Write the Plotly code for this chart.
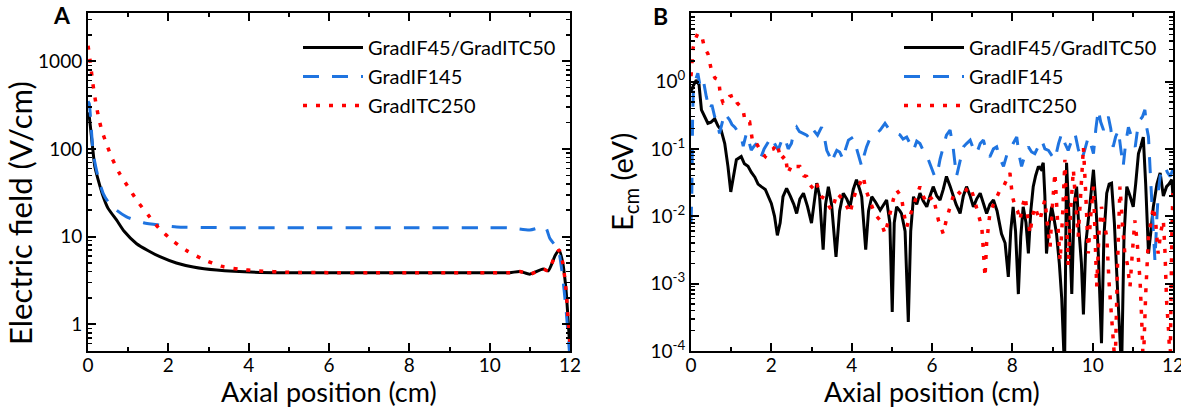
import plotly.graph_objects as go

# ---------------- Panel A data ----------------
xa_black = [0, 0.03, 0.1, 0.17, 0.25, 0.38, 0.5, 0.71, 0.9, 1.21, 1.5, 1.79, 2.2, 2.62, 3.2, 4.28, 5, 6, 7, 8, 9, 10,
            10.5, 10.75, 11.0, 11.33, 11.46, 11.63, 11.73, 11.82, 11.9, 11.96, 12.0]
ya_black = [260, 234, 120, 63, 45, 28.5, 21, 15.5, 11.5, 8.3, 6.9, 5.9, 5.0, 4.5, 4.15, 3.9, 3.88, 3.87, 3.87, 3.87, 3.87, 3.87,
            3.88, 4.0, 3.73, 4.26, 4.07, 6.1, 7.0, 5.0, 2.5, 1.0, 0.5]

xa_blue = [0, 0.03, 0.13, 0.25, 0.38, 0.5, 0.71, 0.96, 1.38, 1.8, 2.21, 3, 4, 6, 8, 10, 10.5, 11.0, 11.38, 11.5, 11.71,
           11.8, 11.9, 12.0]
ya_blue = [350, 330, 89, 48, 31, 25, 20, 16.8, 14.4, 13.5, 12.9, 12.7, 12.6, 12.6, 12.6, 12.6, 12.6, 11.9, 12.9, 9.5, 7.0,
           4.0, 1.5, 0.4]

xa_red = [0, 0.01, 0.07, 0.12, 0.19, 0.26, 0.34, 0.47, 0.59, 0.77, 0.98, 1.24, 1.5, 1.77, 2.12, 2.44, 2.87, 3.31, 3.75, 4.2,
          5, 6, 7, 8, 9, 10, 10.5, 10.75, 11.0, 11.33, 11.46, 11.63, 11.73, 11.82, 11.9, 11.96, 12.0]
ya_red = [1500, 1420, 870, 560, 347, 234, 165, 111, 80, 54, 38, 25, 17.6, 12.4, 8.9, 7.0, 5.5, 4.6, 4.25, 4.07,
          3.92, 3.88, 3.87, 3.87, 3.87, 3.87, 3.88, 4.0, 3.73, 4.26, 4.07, 6.1, 7.0, 5.0, 2.5, 1.0, 0.6]

# ---------------- Panel B data ----------------
xb_black = [0.0, 0.05, 0.13, 0.2, 0.26, 0.34, 0.42, 0.5, 0.59, 0.67, 0.75, 0.84, 0.92, 0.99, 1.06, 1.13, 1.25, 1.33, 1.42,
            1.5, 1.59, 1.67, 1.75, 1.85, 2.0, 2.08, 2.15, 2.22, 2.29, 2.38, 2.47, 2.56, 2.63, 2.71, 2.8, 2.9, 3.0, 3.06,
            3.13, 3.2, 3.29, 3.35, 3.42, 3.5, 3.61, 3.7, 3.79, 3.88, 3.96, 4.04, 4.12, 4.2, 4.25, 4.35, 4.42, 4.5, 4.6,
            4.71, 4.8, 4.87, 4.95, 5.01, 5.06, 5.12, 5.2, 5.24, 5.33, 5.41, 5.47, 5.54, 5.62, 5.7, 5.78, 5.87, 5.95, 6.03,
            6.12, 6.2, 6.28, 6.36, 6.45, 6.53, 6.6, 6.7, 6.78, 6.86, 6.95, 7.03, 7.11, 7.2, 7.28, 7.36, 7.44, 7.53, 7.62,
            7.73, 7.82, 7.9, 7.96, 8.02, 8.08, 8.15, 8.21, 8.27, 8.34, 8.4, 8.46, 8.52, 8.58, 8.65, 8.71, 8.77, 8.81,
            8.85, 8.92, 8.98, 9.04, 9.1, 9.17, 9.23, 9.3, 9.35, 9.41, 9.48, 9.54, 9.6, 9.66, 9.72, 9.77, 9.83, 9.89,
            9.95, 10.02, 10.08, 10.14, 10.22, 10.28, 10.35, 10.41, 10.47, 10.54, 10.6, 10.66, 10.72, 10.78, 10.85,
            10.93, 11.01, 11.07, 11.14, 11.2, 11.26, 11.32, 11.39, 11.45, 11.51, 11.6, 11.68, 11.76, 11.84, 11.9,
            11.97, 12.0]
yb_black = [0.7, 0.85, 1.05, 0.9, 0.38, 0.3, 0.24, 0.25, 0.28, 0.22, 0.19, 0.12, 0.055, 0.023, 0.04, 0.069, 0.077, 0.06,
            0.055, 0.045, 0.038, 0.03, 0.0275, 0.025, 0.0155, 0.01, 0.0052, 0.008, 0.0195, 0.026, 0.02, 0.015, 0.011,
            0.018, 0.022, 0.014, 0.0079, 0.014, 0.031, 0.02, 0.0032, 0.015, 0.0275, 0.015, 0.0025, 0.012, 0.022, 0.018,
            0.0138, 0.025, 0.035, 0.025, 0.0195, 0.0032, 0.012, 0.0195, 0.016, 0.0123, 0.015, 0.0174, 0.008, 0.00038,
            0.008, 0.0138, 0.012, 0.011, 0.006, 0.00027, 0.006, 0.0195, 0.015, 0.022, 0.017, 0.0138, 0.02, 0.0275,
            0.02, 0.0174, 0.025, 0.039, 0.028, 0.0195, 0.015, 0.011, 0.02, 0.0275, 0.02, 0.0138, 0.018, 0.022, 0.016,
            0.011, 0.015, 0.0174, 0.012, 0.0055, 0.004, 0.00126, 0.006, 0.0138, 0.006, 0.0007, 0.005, 0.0138, 0.008,
            0.0028, 0.012, 0.0275, 0.04, 0.055, 0.05, 0.062, 0.02, 0.0028, 0.008, 0.0138, 0.009, 0.0055, 0.002,
            0.0006, 0.00005, 0.062, 0.01, 0.0007, 0.015, 0.0275, 0.006, 0.002, 0.00035, 0.004, 0.0087, 0.02, 0.049,
            0.015, 0.0028, 0.00013, 0.005, 0.022, 0.03, 0.031, 0.008, 0.0014, 0.0003, 0.00005, 0.005, 0.0275, 0.02,
            0.0138, 0.03, 0.085, 0.11, 0.15, 0.03, 0.0028, 0.006, 0.0138, 0.03, 0.044, 0.02, 0.0275, 0.03, 0.035, 0.02]

xb_blue = [0.0, 0.02, 0.04, 0.06, 0.1, 0.17, 0.22, 0.3, 0.38, 0.46, 0.52, 0.59, 0.65, 0.71, 0.78, 0.84, 0.9, 0.96, 1.02,
           1.09, 1.17, 1.25, 1.3, 1.38, 1.44, 1.5, 1.57, 1.63, 1.7, 1.75, 1.82, 1.9, 2.0, 2.08, 2.17, 2.25, 2.33, 2.42,
           2.5, 2.56, 2.63, 2.7, 2.79, 2.88, 2.96, 3.05, 3.15, 3.25, 3.32, 3.38, 3.44, 3.5, 3.57, 3.63, 3.7, 3.79, 3.85,
           3.92, 4.04, 4.12, 4.2, 4.25, 4.31, 4.37, 4.45, 4.54, 4.62, 4.71, 4.83, 4.92, 5.0, 5.1, 5.2, 5.28, 5.37, 5.45,
           5.54, 5.62, 5.7, 5.8, 5.91, 6.0, 6.06, 6.12, 6.2, 6.28, 6.36, 6.45, 6.53, 6.61, 6.7, 6.78, 6.86, 6.95, 7.03,
           7.11, 7.2, 7.28, 7.36, 7.44, 7.53, 7.61, 7.7, 7.78, 7.86, 7.94, 8.02, 8.11, 8.17, 8.23, 8.31, 8.4, 8.48, 8.56,
           8.65, 8.73, 8.81, 8.9, 8.98, 9.06, 9.15, 9.23, 9.31, 9.39, 9.47, 9.56, 9.64, 9.73, 9.81, 9.89, 9.95, 10.02,
           10.08, 10.14, 10.2, 10.27, 10.33, 10.39, 10.45, 10.51, 10.57, 10.64, 10.7, 10.76, 10.82, 10.89, 10.97,
           11.06, 11.12, 11.18, 11.24, 11.3, 11.35, 11.39, 11.43, 11.47, 11.51, 11.55, 11.6, 11.64, 11.68, 11.74,
           11.8, 11.86, 11.93, 12.0]
yb_blue = [0.008, 0.02, 0.3, 0.8, 1.0, 1.33, 0.9, 1.1, 0.6, 0.38, 0.45, 0.3, 0.25, 0.17, 0.25, 0.34, 0.3, 0.27, 0.23,
           0.21, 0.18, 0.15, 0.11, 0.17, 0.13, 0.096, 0.11, 0.12, 0.085, 0.077, 0.1, 0.12, 0.15, 0.12, 0.096, 0.13,
           0.15, 0.1, 0.12, 0.18, 0.21, 0.18, 0.17, 0.16, 0.14, 0.19, 0.16, 0.21, 0.15, 0.095, 0.08, 0.062, 0.08,
           0.095, 0.09, 0.069, 0.1, 0.135, 0.15, 0.1, 0.07, 0.055, 0.08, 0.107, 0.14, 0.162, 0.17, 0.19, 0.24, 0.2,
           0.19, 0.17, 0.162, 0.14, 0.15, 0.12, 0.095, 0.13, 0.12, 0.09, 0.069, 0.05, 0.04, 0.039, 0.07, 0.107, 0.16,
           0.19, 0.1, 0.039, 0.07, 0.107, 0.12, 0.135, 0.1, 0.085, 0.12, 0.135, 0.09, 0.076, 0.1, 0.107, 0.07, 0.055,
           0.08, 0.095, 0.12, 0.15, 0.08, 0.055, 0.08, 0.107, 0.09, 0.085, 0.11, 0.135, 0.1, 0.095, 0.08, 0.069, 0.12,
           0.17, 0.12, 0.095, 0.13, 0.17, 0.1, 0.069, 0.1, 0.15, 0.12, 0.085, 0.2, 0.38, 0.25, 0.19, 0.25, 0.3, 0.2,
           0.107, 0.15, 0.19, 0.1, 0.055, 0.12, 0.21, 0.15, 0.107, 0.2, 0.27, 0.3, 0.38, 0.2, 0.15, 0.05, 0.017,
           0.005, 0.0022, 0.01, 0.025, 0.039, 0.05, 0.055, 0.045, 0.039, 0.05]

xb_red = [0.0, 0.03, 0.05, 0.09, 0.17, 0.27, 0.34, 0.42, 0.47, 0.52, 0.6, 0.69, 0.73, 0.8, 0.88, 0.96, 1.07, 1.15, 1.24,
          1.31, 1.35, 1.46, 1.54, 1.63, 1.77, 1.85, 1.96, 2.05, 2.15, 2.23, 2.35, 2.41, 2.52, 2.62, 2.71, 2.81, 2.88,
          2.95, 3.0, 3.07, 3.13, 3.2, 3.25, 3.32, 3.38, 3.44, 3.5, 3.57, 3.63, 3.7, 3.79, 3.88, 3.96, 4.04, 4.12, 4.2,
          4.29, 4.35, 4.41, 4.48, 4.54, 4.62, 4.71, 4.77, 4.83, 4.9, 4.95, 5.04, 5.12, 5.18, 5.24, 5.3, 5.37, 5.45,
          5.54, 5.62, 5.7, 5.78, 5.87, 5.95, 6.03, 6.1, 6.16, 6.22, 6.28, 6.36, 6.45, 6.53, 6.61, 6.7, 6.78, 6.86,
          6.95, 7.03, 7.11, 7.18, 7.24, 7.28, 7.32, 7.36, 7.44, 7.53, 7.61, 7.7, 7.78, 7.86, 7.94, 8.0, 8.07, 8.13,
          8.19, 8.25, 8.32, 8.38, 8.44, 8.5, 8.56, 8.62, 8.69, 8.75, 8.81, 8.87, 8.94, 9.0, 9.06, 9.12, 9.19, 9.25,
          9.31, 9.35, 9.39, 9.45, 9.52, 9.58, 9.64, 9.7, 9.77, 9.83, 9.89, 9.95, 10.02, 10.06, 10.1, 10.16, 10.22,
          10.28, 10.35, 10.41, 10.47, 10.52, 10.56, 10.62, 10.68, 10.74, 10.8, 10.86, 10.93, 10.99, 11.05, 11.11,
          11.18, 11.22, 11.26, 11.32, 11.39, 11.45, 11.51, 11.57, 11.63, 11.7, 11.76, 11.8, 11.84, 11.89, 11.93,
          11.97, 12.0]
yb_red = [1.2, 2.0, 3.1, 4.0, 5.2, 4.7, 3.1, 2.6, 1.9, 1.36, 1.12, 1.06, 0.63, 0.48, 0.5, 0.6, 0.63, 0.48, 0.42, 0.34,
          0.25, 0.25, 0.12, 0.12, 0.086, 0.077, 0.096, 0.1, 0.12, 0.069, 0.08, 0.043, 0.06, 0.055, 0.055, 0.04, 0.039,
          0.03, 0.0275, 0.025, 0.031, 0.022, 0.0195, 0.018, 0.0174, 0.014, 0.0123, 0.016, 0.022, 0.02, 0.0174, 0.014,
          0.011, 0.018, 0.0245, 0.03, 0.039, 0.025, 0.0195, 0.015, 0.0123, 0.01, 0.0087, 0.007, 0.0055, 0.008, 0.011,
          0.018, 0.0245, 0.022, 0.0195, 0.011, 0.0069, 0.01, 0.0138, 0.02, 0.0275, 0.02, 0.0155, 0.018, 0.0195,
          0.012, 0.0087, 0.007, 0.0055, 0.009, 0.0138, 0.02, 0.0245, 0.022, 0.0195, 0.025, 0.0275, 0.02, 0.0138,
          0.01, 0.0069, 0.003, 0.00126, 0.004, 0.011, 0.015, 0.0195, 0.025, 0.0275, 0.035, 0.044, 0.02, 0.0138,
          0.012, 0.0087, 0.014, 0.0195, 0.01, 0.0055, 0.01, 0.0138, 0.011, 0.0087, 0.013, 0.0174, 0.008, 0.0035,
          0.015, 0.044, 0.01, 0.0022, 0.01, 0.069, 0.01, 0.0018, 0.012, 0.049, 0.015, 0.005, 0.02, 0.107, 0.02,
          0.0028, 0.01, 0.0275, 0.005, 0.0009, 0.006, 0.0138, 0.008, 0.005, 0.001, 0.00035, 0.0002, 0.00006, 0.002,
          0.0275, 0.008, 0.0028, 0.002, 0.0009, 0.003, 0.0087, 0.004, 0.0011, 0.0003, 0.00006, 0.0007, 0.005, 0.008,
          0.0138, 0.008, 0.0028, 0.006, 0.0087, 0.003, 0.00056, 0.0002, 0.00006, 0.005, 0.0275]

names = ["GradIF45/GradITC50", "GradIF145", "GradITC250"]
colors = ["#000000", "#1f74e0", "#ff0000"]
dashes = ["solid", "16px,13px", "4px,9px"]

tick_a_vals = [1, 10, 100, 1000]
tick_a_text = ["1", "10", "100", "1000"]
tick_b_vals = [1e-4, 1e-3, 1e-2, 1e-1, 1]
tick_b_text = ["10<sup>-4</sup>", "10<sup>-3</sup>", "10<sup>-2</sup>", "10<sup>-1</sup>", "10<sup>0</sup>"]

FONT = "Lato"

fig = go.Figure()

series_a = [(xa_black, ya_black), (xa_blue, ya_blue), (xa_red, ya_red)]
series_b = [(xb_black, yb_black), (xb_blue, yb_blue), (xb_red, yb_red)]
widths_a = [3, 3, 3.5]
widths_b = [3, 3, 3.5]

for i, (xs, ys) in enumerate(series_a):
    fig.add_trace(go.Scatter(x=xs, y=ys, mode="lines", name=names[i],
                             line=dict(color=colors[i], width=widths_a[i], dash=dashes[i], shape="spline",
                                       smoothing=0.6),
                             xaxis="x", yaxis="y", legend="legend"))
for i, (xs, ys) in enumerate(series_b):
    fig.add_trace(go.Scatter(x=xs, y=ys, mode="lines", name=names[i],
                             line=dict(color=colors[i], width=widths_b[i], dash=dashes[i]),
                             xaxis="x2", yaxis="y2", legend="legend2"))

L, R, T, B = 88, 8, 13, 56
W, H = 1181, 407
pw = W - L - R
ph = H - T - B


def px2x(px):
    return (px - L) / pw


def px2y(py):
    return (H - B - py) / ph


common_x = dict(showline=True, linewidth=2, linecolor="black", mirror="ticks", ticks="inside", ticklen=8,
                tickwidth=2, tickcolor="black", range=[0, 12], dtick=2, tick0=0, showgrid=False, zeroline=False,
                automargin=False, ticklabeloverflow="allow", ticklabelstandoff=-4,
                tickfont=dict(family=FONT, size=19, color="black"),
                minor=dict(ticks="inside", ticklen=4, tickwidth=2, dtick=1, tickcolor="black", showgrid=False))

minor_a = [m * 10 ** e for e in range(-1, 4) for m in range(2, 10)]
minor_b = [m * 10 ** e for e in range(-4, 1) for m in range(2, 10)]

fig.update_layout(
    width=W, height=H, autosize=False,
    margin=dict(l=L, r=R, t=T, b=B, autoexpand=False),
    paper_bgcolor="white", plot_bgcolor="white",
    font=dict(family=FONT, color="black"),
    xaxis=dict(domain=[0, px2x(570)], anchor="y", **common_x),
    xaxis2=dict(domain=[px2x(691), 1], anchor="y2", **common_x),
    yaxis=dict(type="log", range=[-0.305, 3.551], anchor="x", showline=True, linewidth=2, linecolor="black",
               mirror="ticks", ticks="inside", ticklen=8, tickwidth=2, tickcolor="black", showgrid=False,
               automargin=False, tickmode="array", tickvals=tick_a_vals, ticktext=tick_a_text,
               ticklabeloverflow="allow",
               tickfont=dict(family=FONT, size=19, color="black"),
               minor=dict(ticks="inside", ticklen=4, tickwidth=1.5, tickcolor="black", tickvals=minor_a,
                          showgrid=False)),
    yaxis2=dict(type="log", range=[-4, 1.017], anchor="x2", showline=True, linewidth=2, linecolor="black",
                mirror="ticks", ticks="inside", ticklen=8, tickwidth=2, tickcolor="black", showgrid=False,
                automargin=False, tickmode="array", tickvals=tick_b_vals, ticktext=tick_b_text,
                ticklabeloverflow="allow",
                tickfont=dict(family=FONT, size=19, color="black"),
                minor=dict(ticks="inside", ticklen=4, tickwidth=1.5, tickcolor="black", tickvals=minor_b,
                           showgrid=False)),
    legend=dict(x=px2x(298), y=px2y(28), xanchor="left", yanchor="top", bgcolor="rgba(0,0,0,0)",
                font=dict(family=FONT, size=20, color="black"), itemwidth=60),
    legend2=dict(x=px2x(899), y=px2y(28), xanchor="left", yanchor="top", bgcolor="rgba(0,0,0,0)",
                 font=dict(family=FONT, size=20, color="black"), itemwidth=60),
    showlegend=True,
)

ann = [
    dict(text="<b>A</b>", x=px2x(62), y=px2y(15), font=dict(size=23)),
    dict(text="<b>B</b>", x=px2x(660), y=px2y(16), font=dict(size=23)),
    dict(text="Axial position (cm)", x=px2x(329), y=px2y(391), font=dict(size=27)),
    dict(text="Axial position (cm)", x=px2x(932), y=px2y(391), font=dict(size=27)),
    dict(text="Electric field (V/cm)", x=px2x(20), y=px2y(213), font=dict(size=31), textangle=-90),
    dict(text="E<sub>cm</sub> (eV)", x=px2x(623), y=px2y(182), font=dict(size=29), textangle=-90),
]
for a in ann:
    fig.add_annotation(xref="paper", yref="paper", showarrow=False, xanchor="center", yanchor="middle",
                       font_family=FONT, font_color="black", **{k: v for k, v in a.items()})

post = ("document.documentElement.style.overflow='hidden';"
        "document.body.style.margin='0';document.body.style.overflow='hidden';")

fig.write_html("out.html",
               config={"responsive": False, "displayModeBar": False, "staticPlot": True},
               post_script=post)
